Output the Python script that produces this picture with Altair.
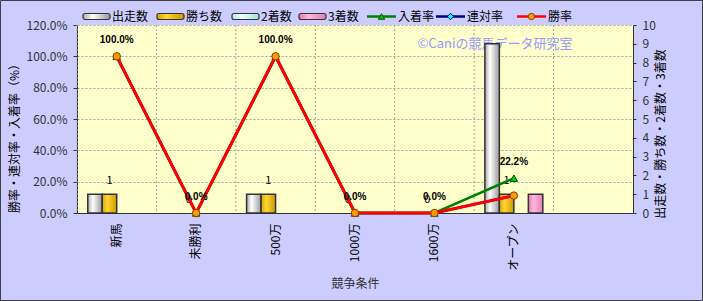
import altair as alt
import pandas as pd

# ---------------- data ----------------
categories = ["新馬", "未勝利", "500万", "1000万", "1600万", "オープン"]
axis_domain = categories + [""]
count_series = ["出走数", "勝ち数", "2着数", "3着数"]
starts = [1, 0, 1, 0, 0, 9]
wins = [1, 0, 1, 0, 0, 1]
seconds = [0, 0, 0, 0, 0, 0]
thirds = [0, 0, 0, 0, 0, 1]
rate_series = ["入着率", "連対率", "勝率"]
place_rate = [1.0, 0.0, 1.0, 0.0, 0.0, 0.2222]
quinella_rate = [1.0, 0.0, 1.0, 0.0, 0.0, 0.1111]
win_rate = [1.0, 0.0, 1.0, 0.0, 0.0, 0.1111]
rate_ticks = [0.0, 0.2, 0.4, 0.6, 0.8, 1.0, 1.2]
count_ticks = [0, 1, 2, 3, 4, 5, 6, 7, 8, 9, 10]

counts_df = pd.DataFrame(
    [(c, s, v) for s, vals in zip(count_series, [starts, wins, seconds, thirds])
     for c, v in zip(categories, vals)],
    columns=["cat", "series", "value"])
rates_df = pd.DataFrame(
    [(c, s, v) for s, vals in zip(rate_series, [place_rate, quinella_rate, win_rate])
     for c, v in zip(categories, vals)],
    columns=["cat", "series", "value"])
cat_df = pd.DataFrame({"cat": axis_domain})
one = pd.DataFrame({"k": [0]})

FONT = "Noto Sans CJK JP"
W, H = 556, 188


def grad(c1, c2, c3):
    return alt.Gradient(gradient="linear", x1=0, x2=1, y1=0, y2=0,
                        stops=[alt.GradientStop(color=c1, offset=0),
                               alt.GradientStop(color=c2, offset=0.35),
                               alt.GradientStop(color=c3, offset=1)])


bar_fills = {
    "出走数": grad("#a8a8a8", "#ffffff", "#9a9a9a"),
    "勝ち数": grad("#d9a400", "#ffd633", "#cc9900"),
    "2着数": grad("#a8e8e8", "#f0ffff", "#a0e0e0"),
    "3着数": grad("#e878b0", "#ffb8dc", "#e080b8"),
}
line_styles = {
    "入着率": dict(line="#008000", shape="triangle-up", fill="#00cc00", stroke="#005000", width=2.5),
    "連対率": dict(line="#000080", shape="diamond", fill="#00ffff", stroke="#000060", width=2.5),
    "勝率": dict(line="#ff0000", shape="circle", fill="#ff9900", stroke="#804000", width=3),
}

x_axis = alt.Axis(title="競争条件", labelAngle=270, labelAlign="right", labelBaseline="middle",
                  labelPadding=10, labelFontSize=12, labelColor="#000", labelFont=FONT,
                  ticks=False, grid=False, domainColor="#333", titleFont=FONT,
                  titleFontSize=12, titleFontWeight="normal", titleColor="#333",
                  titleY=70, titleBaseline="middle")
x_scale = alt.Scale(domain=axis_domain, paddingInner=0, paddingOuter=0)


def X(**kw):
    return alt.X("cat:N", scale=x_scale, axis=x_axis, sort=axis_domain, **kw)


xoff = alt.XOffset("series:N", scale=alt.Scale(domain=count_series, paddingOuter=0.74, paddingInner=0))

count_axis = alt.Axis(orient="right", values=count_ticks, grid=False, tickSize=3, tickColor="#333",
                      domainColor="#333", labelFontSize=12, labelColor="#333", labelFont=FONT,
                      labelPadding=6, title=None)
count_y = alt.Y("value:Q", scale=alt.Scale(domain=[0, 10], nice=False, zero=True), axis=count_axis)

rate_axis = alt.Axis(orient="left", values=rate_ticks, format=".1%", grid=True, gridColor="#a0a0a0",
                     gridDash=[2, 2], tickSize=4, tickColor="#333", domainColor="#333",
                     labelFontSize=12, labelColor="#333", labelFont=FONT, labelPadding=6,
                     title="勝率・連対率・入着率（%）", titleAngle=270, titleFont=FONT,
                     titleFontSize=12, titleFontWeight="normal", titleColor="#000",
                     titleX=-63, titleY=110, titleBaseline="middle", titleAlign="center")
rate_y = alt.Y("value:Q", scale=alt.Scale(domain=[0, 1.2], nice=False, zero=True), axis=rate_axis)

# --------- count group ---------
vgrid = alt.Chart(cat_df).mark_rule(color="#a0a0a0", strokeDash=[2, 2], strokeWidth=1).encode(
    x=X(bandPosition=0))
watermark = alt.Chart(one).mark_text(text="©Caniの競馬データ研究室", font=FONT, fontSize=13,
                                     color="#9999ff", align="center", baseline="middle").encode(
    x=alt.value(418), y=alt.value(19))
bar_layers = []
for s in count_series:
    bar_layers.append(
        alt.Chart(counts_df).transform_filter(
            (alt.datum.series == s) & (alt.datum.value > 0)
        ).mark_bar(fill=bar_fills[s], stroke="#333", strokeWidth=1.5).encode(
            x=X(), xOffset=xoff, y=count_y))
count_labels = alt.Chart(counts_df).transform_filter(alt.datum.series == "勝ち数").mark_text(
    font=FONT, fontSize=11, color="#000", baseline="middle", dy=-13).encode(
    x=X(), xOffset=xoff, y=count_y, text="value:Q")
count_group = alt.layer(vgrid, watermark, *bar_layers, count_labels)

# --------- rate group ---------
rate_layers = []
for s in rate_series:
    st = line_styles[s]
    base = alt.Chart(rates_df).transform_filter(alt.datum.series == s)
    rate_layers.append(base.mark_line(color=st["line"], strokeWidth=st["width"]).encode(
        x=X(), y=rate_y))
    rate_layers.append(base.mark_point(shape=st["shape"], filled=True, size=55, fill=st["fill"],
                                       stroke=st["stroke"], strokeWidth=1, opacity=1).encode(
        x=X(), y=rate_y))
rate_labels = alt.Chart(rates_df).transform_filter(alt.datum.series == "入着率").mark_text(
    font="Liberation Sans", fontSize=10, fontWeight="bold", color="#000", baseline="middle",
    dy=-16).encode(x=X(), y=rate_y, text=alt.Text("value:Q", format=".1%"))

# right axis title (drawn as text so it reads bottom-to-top like the reference)
right_title = alt.Chart(one).mark_text(text="出走数・勝ち数・2着数・3着数", font=FONT, fontSize=12,
                                       color="#000", angle=270, align="center",
                                       baseline="middle").encode(
    x=alt.value(W + 28), y=alt.value(109))

# --------- legend (decoration) ---------
leg_y = -8.5
legend_layers = []
bar_leg_x = [6, 80, 155, 222]
for s, x0 in zip(count_series, bar_leg_x):
    legend_layers.append(alt.Chart(one).mark_rect(fill=bar_fills[s], stroke="#333", strokeWidth=1.2,
                                                  cornerRadius=2).encode(
        x=alt.value(x0), x2=alt.value(x0 + 27), y=alt.value(leg_y - 3), y2=alt.value(leg_y + 3)))
    legend_layers.append(alt.Chart(one).mark_text(text=s, font=FONT, fontSize=12, color="#000",
                                                  align="left", baseline="middle").encode(
        x=alt.value(x0 + 29), y=alt.value(leg_y)))
line_leg_x = [290, 359, 440]
for s, x0 in zip(rate_series, line_leg_x):
    st = line_styles[s]
    legend_layers.append(alt.Chart(one).mark_rule(color=st["line"], strokeWidth=2.5).encode(
        x=alt.value(x0), x2=alt.value(x0 + 29), y=alt.value(leg_y)))
    legend_layers.append(alt.Chart(one).mark_point(shape=st["shape"], filled=True, size=40,
                                                   fill=st["fill"], stroke=st["stroke"],
                                                   strokeWidth=1, opacity=1).encode(
        x=alt.value(x0 + 14.5), y=alt.value(leg_y)))
    legend_layers.append(alt.Chart(one).mark_text(text=s, font=FONT, fontSize=12, color="#000",
                                                  align="left", baseline="middle").encode(
        x=alt.value(x0 + 31), y=alt.value(leg_y)))

border = alt.Chart(one).mark_rect(fill="transparent", stroke="#404040", strokeWidth=1).encode(
    x=alt.value(-76.5), x2=alt.value(625.5), y=alt.value(-24.5), y2=alt.value(275.5))

rate_group = alt.layer(*rate_layers, rate_labels, right_title, *legend_layers, border)

chart = alt.layer(count_group, rate_group).resolve_scale(y="independent").properties(
    width=W, height=H,
    padding={"left": 77, "top": 25, "right": 70, "bottom": 88},
    autosize=alt.AutoSizeParams(type="none"),
    background="#ccccff",
).configure_view(fill="#ffffcc", strokeWidth=0)

chart.save("out.html", embed_options={"renderer": "svg", "actions": False})
